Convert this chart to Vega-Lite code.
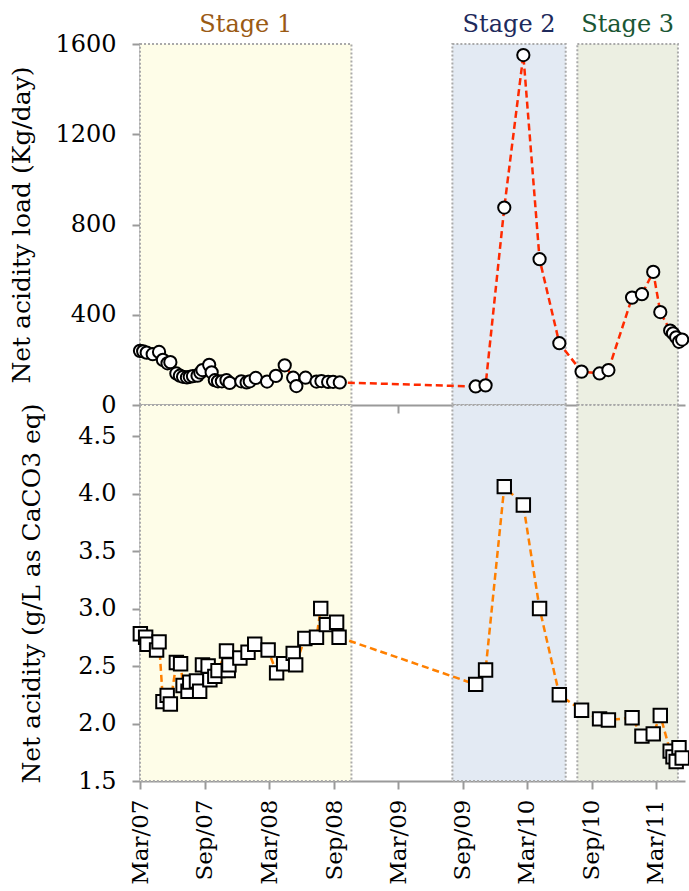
{
  "$schema": "https://vega.github.io/schema/vega-lite/v6.json",
  "padding": {"left": 9, "top": 13, "right": 0, "bottom": 0},
  "background": "white",
  "bounds": "flush",
  "config": {
    "view": {"stroke": null},
    "font": "DejaVu Serif",
    "text": {"font": "DejaVu Serif"},
    "axis": {
      "grid": false,
      "domainColor": "#9a9a9a",
      "tickColor": "#9a9a9a",
      "domainWidth": 2,
      "tickWidth": 2,
      "tickSize": 8,
      "labelFont": "DejaVu Serif",
      "labelFontSize": 24,
      "labelColor": "black",
      "titleFont": "DejaVu Serif",
      "titleFontSize": 25,
      "titleFontWeight": "normal",
      "titleColor": "black"
    },
    "axisY": {"labelPadding": 16},
    "axisX": {"labelPadding": 10, "labelFontSize": 23}
  },
  "datasets": {
    "stages": [
      {"stage": "Stage 1", "date": "2007-03-01"},
      {"stage": "Stage 1", "date": "2008-10-20"},
      {"stage": "Stage 2", "date": "2009-08-02"},
      {"stage": "Stage 2", "date": "2010-06-19"},
      {"stage": "Stage 3", "date": "2010-07-22"},
      {"stage": "Stage 3", "date": "2011-05-03"}
    ],
    "load": [
      {"date": "2007-03-01", "load": 240},
      {"date": "2007-03-10", "load": 238},
      {"date": "2007-03-20", "load": 232},
      {"date": "2007-04-06", "load": 225},
      {"date": "2007-04-24", "load": 235},
      {"date": "2007-05-05", "load": 200},
      {"date": "2007-05-18", "load": 185},
      {"date": "2007-05-26", "load": 190},
      {"date": "2007-06-12", "load": 140},
      {"date": "2007-06-22", "load": 130},
      {"date": "2007-07-01", "load": 125},
      {"date": "2007-07-12", "load": 122},
      {"date": "2007-07-20", "load": 125},
      {"date": "2007-07-29", "load": 128},
      {"date": "2007-08-11", "load": 130},
      {"date": "2007-08-19", "load": 143},
      {"date": "2007-08-25", "load": 155},
      {"date": "2007-09-13", "load": 178},
      {"date": "2007-09-20", "load": 145},
      {"date": "2007-09-29", "load": 110},
      {"date": "2007-10-08", "load": 105},
      {"date": "2007-10-19", "load": 105},
      {"date": "2007-11-01", "load": 110},
      {"date": "2007-11-10", "load": 98},
      {"date": "2007-12-13", "load": 105},
      {"date": "2007-12-28", "load": 100},
      {"date": "2008-01-06", "load": 105},
      {"date": "2008-01-23", "load": 120},
      {"date": "2008-02-24", "load": 104},
      {"date": "2008-03-20", "load": 129},
      {"date": "2008-04-14", "load": 176},
      {"date": "2008-05-08", "load": 121},
      {"date": "2008-05-17", "load": 84},
      {"date": "2008-06-12", "load": 121},
      {"date": "2008-07-13", "load": 104},
      {"date": "2008-07-27", "load": 106},
      {"date": "2008-08-15", "load": 102},
      {"date": "2008-08-29", "load": 103},
      {"date": "2008-09-17", "load": 100},
      {"date": "2009-10-07", "load": 82},
      {"date": "2009-11-04", "load": 87},
      {"date": "2009-12-27", "load": 875},
      {"date": "2010-02-19", "load": 1551},
      {"date": "2010-04-06", "load": 646},
      {"date": "2010-06-01", "load": 274},
      {"date": "2010-08-03", "load": 148},
      {"date": "2010-09-23", "load": 140},
      {"date": "2010-10-18", "load": 155},
      {"date": "2010-12-24", "load": 476},
      {"date": "2011-01-21", "load": 491},
      {"date": "2011-02-22", "load": 590},
      {"date": "2011-03-14", "load": 412},
      {"date": "2011-04-11", "load": 330},
      {"date": "2011-04-19", "load": 318},
      {"date": "2011-04-28", "load": 300},
      {"date": "2011-05-06", "load": 280},
      {"date": "2011-05-15", "load": 290}
    ],
    "acid": [
      {"date": "2007-03-02", "acidity": 2.78},
      {"date": "2007-03-17", "acidity": 2.75},
      {"date": "2007-03-21", "acidity": 2.69},
      {"date": "2007-04-17", "acidity": 2.64},
      {"date": "2007-04-24", "acidity": 2.71},
      {"date": "2007-05-05", "acidity": 2.19},
      {"date": "2007-05-17", "acidity": 2.245},
      {"date": "2007-05-26", "acidity": 2.17},
      {"date": "2007-06-12", "acidity": 2.53},
      {"date": "2007-06-24", "acidity": 2.52},
      {"date": "2007-07-01", "acidity": 2.33},
      {"date": "2007-07-15", "acidity": 2.28},
      {"date": "2007-07-20", "acidity": 2.36},
      {"date": "2007-08-08", "acidity": 2.37},
      {"date": "2007-08-17", "acidity": 2.28},
      {"date": "2007-08-25", "acidity": 2.51},
      {"date": "2007-09-10", "acidity": 2.5},
      {"date": "2007-09-15", "acidity": 2.38},
      {"date": "2007-09-29", "acidity": 2.41},
      {"date": "2007-10-08", "acidity": 2.46},
      {"date": "2007-11-01", "acidity": 2.63},
      {"date": "2007-11-06", "acidity": 2.46},
      {"date": "2007-11-08", "acidity": 2.51},
      {"date": "2007-12-09", "acidity": 2.57},
      {"date": "2008-01-01", "acidity": 2.62},
      {"date": "2008-01-20", "acidity": 2.69},
      {"date": "2008-02-27", "acidity": 2.64},
      {"date": "2008-03-22", "acidity": 2.44},
      {"date": "2008-04-11", "acidity": 2.52},
      {"date": "2008-05-08", "acidity": 2.61},
      {"date": "2008-05-15", "acidity": 2.51},
      {"date": "2008-06-10", "acidity": 2.74},
      {"date": "2008-07-13", "acidity": 2.75},
      {"date": "2008-07-25", "acidity": 3.0},
      {"date": "2008-08-10", "acidity": 2.86},
      {"date": "2008-09-08", "acidity": 2.88},
      {"date": "2008-09-15", "acidity": 2.75},
      {"date": "2009-10-07", "acidity": 2.34},
      {"date": "2009-11-04", "acidity": 2.465},
      {"date": "2009-12-27", "acidity": 4.06},
      {"date": "2010-02-19", "acidity": 3.9},
      {"date": "2010-04-06", "acidity": 3.0},
      {"date": "2010-06-01", "acidity": 2.25},
      {"date": "2010-08-03", "acidity": 2.115},
      {"date": "2010-09-23", "acidity": 2.04},
      {"date": "2010-10-18", "acidity": 2.03},
      {"date": "2010-12-24", "acidity": 2.05},
      {"date": "2011-01-21", "acidity": 1.89},
      {"date": "2011-02-22", "acidity": 1.91},
      {"date": "2011-03-14", "acidity": 2.07},
      {"date": "2011-04-11", "acidity": 1.76},
      {"date": "2011-04-19", "acidity": 1.71},
      {"date": "2011-04-28", "acidity": 1.67},
      {"date": "2011-05-06", "acidity": 1.79},
      {"date": "2011-05-15", "acidity": 1.7}
    ]
  },
  "spacing": 0,
  "vconcat": [
    {
      "width": 545,
      "height": 361,
      "resolve": {"scale": {"color": "independent", "fill": "independent"}},
      "layer": [
        {
          "data": {"name": "stages"},
          "mark": {"type": "rect", "stroke": "#aaaaaa", "strokeWidth": 2, "strokeDash": [2, 2]},
          "encoding": {
            "x": {"field": "date", "aggregate": "min", "type": "temporal",
                  "scale": {"domain": [{"year": 2007, "month": "mar", "date": 1}, {"year": 2011, "month": "may", "date": 23}]},
                  "axis": {"title": null, "labels": false,
                           "values": [{"year": 2007, "month": "mar", "date": 1}, {"year": 2007, "month": "sep", "date": 1}, {"year": 2008, "month": "mar", "date": 1}, {"year": 2008, "month": "sep", "date": 1}, {"year": 2009, "month": "mar", "date": 1}, {"year": 2009, "month": "sep", "date": 1}, {"year": 2010, "month": "mar", "date": 1}, {"year": 2010, "month": "sep", "date": 1}, {"year": 2011, "month": "mar", "date": 1}]}},
            "x2": {"field": "date", "aggregate": "max"},
            "fill": {"field": "stage", "type": "nominal", "legend": null,
                     "scale": {"domain": ["Stage 1", "Stage 2", "Stage 3"], "range": ["#fefde8", "#e3eaf3", "#ecefe2"]}}
          }
        },
        {
          "data": {"name": "stages"},
          "mark": {"type": "text", "baseline": "alphabetic", "dy": -12, "fontSize": 24, "font": "DejaVu Serif"},
          "encoding": {
            "x": {"field": "date", "aggregate": "mean", "type": "temporal"},
            "y": {"datum": 1600, "type": "quantitative"},
            "text": {"field": "stage"},
            "color": {"field": "stage", "type": "nominal", "legend": null,
                      "scale": {"domain": ["Stage 1", "Stage 2", "Stage 3"], "range": ["#9a5a14", "#1e2a5c", "#1a5634"]}}
          }
        },
        {
          "data": {"name": "load"},
          "mark": {"type": "line", "color": "#ff2a00", "strokeWidth": 2.5, "strokeDash": [7, 4]},
          "encoding": {
            "x": {"field": "date", "type": "temporal"},
            "y": {"field": "load", "type": "quantitative",
                  "scale": {"domain": [0, 1600], "nice": false},
                  "axis": {"title": "Net acidity load (Kg/day)", "titlePadding": 20, "format": "d", "values": [0, 400, 800, 1200, 1600]}}
          }
        },
        {
          "data": {"name": "load"},
          "mark": {"type": "point", "shape": "circle", "filled": true, "fill": "white", "stroke": "black", "strokeWidth": 2, "size": 150, "opacity": 1},
          "encoding": {
            "x": {"field": "date", "type": "temporal"},
            "y": {"field": "load", "type": "quantitative"}
          }
        }
      ]
    },
    {
      "width": 545,
      "height": 376,
      "layer": [
        {
          "data": {"name": "stages"},
          "mark": {"type": "rect", "stroke": "#aaaaaa", "strokeWidth": 2, "strokeDash": [2, 2]},
          "encoding": {
            "x": {"field": "date", "aggregate": "min", "type": "temporal",
                  "scale": {"domain": [{"year": 2007, "month": "mar", "date": 1}, {"year": 2011, "month": "may", "date": 23}]},
                  "axis": {"title": null, "labelAngle": 270, "format": "%b/%y",
                           "values": [{"year": 2007, "month": "mar", "date": 1}, {"year": 2007, "month": "sep", "date": 1}, {"year": 2008, "month": "mar", "date": 1}, {"year": 2008, "month": "sep", "date": 1}, {"year": 2009, "month": "mar", "date": 1}, {"year": 2009, "month": "sep", "date": 1}, {"year": 2010, "month": "mar", "date": 1}, {"year": 2010, "month": "sep", "date": 1}, {"year": 2011, "month": "mar", "date": 1}]}},
            "x2": {"field": "date", "aggregate": "max"},
            "fill": {"field": "stage", "type": "nominal", "legend": null,
                     "scale": {"domain": ["Stage 1", "Stage 2", "Stage 3"], "range": ["#fefde8", "#e3eaf3", "#ecefe2"]}}
          }
        },
        {
          "data": {"name": "acid"},
          "mark": {"type": "line", "color": "#ff8000", "strokeWidth": 2.5, "strokeDash": [7, 4]},
          "encoding": {
            "x": {"field": "date", "type": "temporal"},
            "y": {"field": "acidity", "type": "quantitative",
                  "scale": {"domain": [1.5, 4.77], "nice": false, "zero": false},
                  "axis": {"title": "Net acidity (g/L as CaCO3 eq)", "titlePadding": 33, "format": ".1f", "values": [1.5, 2.0, 2.5, 3.0, 3.5, 4.0, 4.5]}}
          }
        },
        {
          "data": {"name": "acid"},
          "mark": {"type": "point", "shape": "square", "filled": true, "fill": "white", "stroke": "black", "strokeWidth": 2, "size": 180, "opacity": 1},
          "encoding": {
            "x": {"field": "date", "type": "temporal"},
            "y": {"field": "acidity", "type": "quantitative"}
          }
        }
      ]
    }
  ]
}
